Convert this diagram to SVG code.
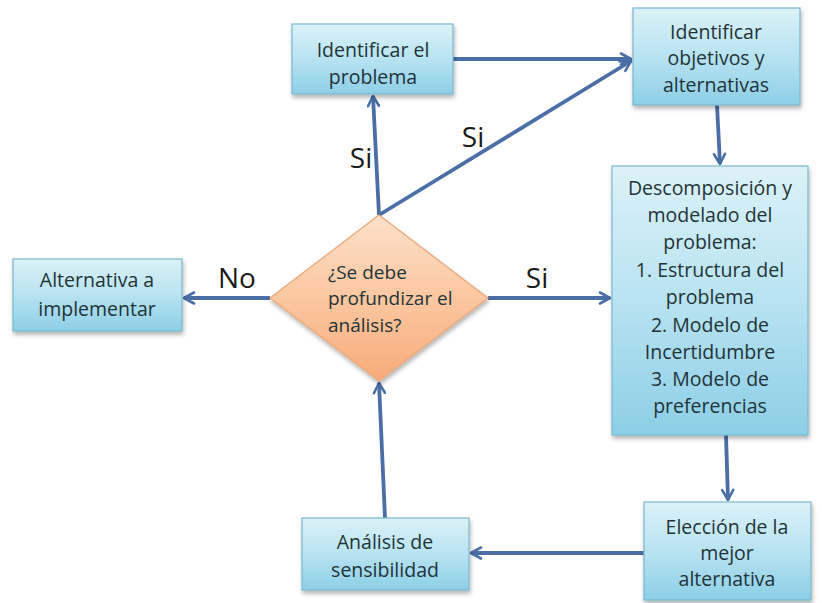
<svg xmlns="http://www.w3.org/2000/svg" width="822" height="603" viewBox="0 0 822 603">
  <defs>
    <linearGradient id="boxFill" x1="0" y1="0" x2="0" y2="1">
      <stop offset="0" stop-color="#dcf1f8"/>
      <stop offset="0.5" stop-color="#b8e3f1"/>
      <stop offset="1" stop-color="#8ccfe6"/>
    </linearGradient>
    <linearGradient id="diamondFill" x1="0" y1="0" x2="0" y2="1">
      <stop offset="0" stop-color="#fde0ca"/>
      <stop offset="0.5" stop-color="#fbc7a0"/>
      <stop offset="1" stop-color="#f6ab7a"/>
    </linearGradient>
    <filter id="shadow" x="-10%" y="-10%" width="125%" height="130%">
      <feDropShadow dx="1" dy="3" stdDeviation="2" flood-color="#000" flood-opacity="0.3"/>
    </filter>
    <marker id="arrow" viewBox="0 0 14 14" refX="12" refY="7" markerWidth="14" markerHeight="14" markerUnits="userSpaceOnUse" orient="auto">
      <path d="M2,1.5 L12,7 L2,12.5" fill="none" stroke="#4b6ea6" stroke-width="2.6" stroke-linecap="round" stroke-linejoin="round"/>
    </marker>
  </defs>
  <style>
    .box { fill: url(#boxFill); stroke: #7bb7cd; stroke-width: 1.2; filter: url(#shadow); }
    .diamond { fill: url(#diamondFill); stroke: #eaa677; stroke-width: 1.2; filter: url(#shadow); }
    .label { font-family: "Open Sans", "Liberation Sans", sans-serif; font-size: 19.5px; fill: #1f3338; text-anchor: middle; }
    .qtext { font-family: "Open Sans", "Liberation Sans", sans-serif; font-size: 19px; fill: #1f3338; }
    .edge-label { font-family: "Open Sans", "Liberation Sans", sans-serif; font-size: 28px; fill: #1a1a1a; text-anchor: middle; }
    .conn { stroke: #4b6ea6; stroke-width: 3.8; fill: none; marker-end: url(#arrow); }
  </style>
  <rect width="822" height="603" fill="#ffffff"/>

  <!-- connectors -->
  <g id="connectors">
    <line class="conn" x1="453" y1="59" x2="631" y2="59"/>
    <line class="conn" x1="379" y1="215" x2="631" y2="61"/>
    <line class="conn" x1="379" y1="215" x2="373" y2="96"/>
    <line class="conn" x1="717" y1="105" x2="720" y2="164"/>
    <line class="conn" x1="488" y1="298" x2="610" y2="298"/>
    <line class="conn" x1="270" y1="298" x2="184" y2="298"/>
    <line class="conn" x1="726" y1="435" x2="728" y2="500"/>
    <line class="conn" x1="644" y1="553" x2="471" y2="553"/>
    <line class="conn" x1="385" y1="518" x2="379" y2="383"/>
    <text class="edge-label" x="361" y="168">Si</text>
    <text class="edge-label" x="473" y="147">Si</text>
    <text class="edge-label" x="237" y="288">No</text>
    <text class="edge-label" x="537" y="288">Si</text>
  </g>

  <g id="identificar-problema">
    <rect class="box" x="292" y="24" width="161" height="70"/>
    <text class="label" x="373" y="57">Identificar el</text>
    <text class="label" x="373" y="84">problema</text>
  </g>

  <g id="identificar-objetivos">
    <rect class="box" x="633" y="8" width="167" height="97"/>
    <text class="label" x="716" y="39">Identificar</text>
    <text class="label" x="716" y="65">objetivos y</text>
    <text class="label" x="716" y="92">alternativas</text>
  </g>

  <g id="descomposicion">
    <rect class="box" x="612" y="166" width="196" height="269"/>
    <text class="label" x="710" y="195">Descomposición y</text>
    <text class="label" x="710" y="222">modelado del</text>
    <text class="label" x="710" y="249">problema:</text>
    <text class="label" x="710" y="277">1. Estructura del</text>
    <text class="label" x="710" y="304">problema</text>
    <text class="label" x="710" y="332">2. Modelo de</text>
    <text class="label" x="710" y="359">Incertidumbre</text>
    <text class="label" x="710" y="386">3. Modelo de</text>
    <text class="label" x="710" y="413">preferencias</text>
  </g>

  <g id="pregunta">
    <polygon class="diamond" points="379,215 488,298 379,381 270,298"/>
    <text class="qtext" x="328" y="279">¿Se debe</text>
    <text class="qtext" x="328" y="305">profundizar el</text>
    <text class="qtext" x="328" y="332">análisis?</text>
  </g>

  <g id="alternativa-implementar">
    <rect class="box" x="13" y="259" width="169" height="72"/>
    <text class="label" x="97" y="287">Alternativa a</text>
    <text class="label" x="97" y="316">implementar</text>
  </g>

  <g id="eleccion">
    <rect class="box" x="644" y="502" width="167" height="98"/>
    <text class="label" x="727" y="534">Elección de la</text>
    <text class="label" x="727" y="560">mejor</text>
    <text class="label" x="727" y="586">alternativa</text>
  </g>

  <g id="analisis-sensibilidad">
    <rect class="box" x="302" y="518" width="167" height="72"/>
    <text class="label" x="385" y="549">Análisis de</text>
    <text class="label" x="385" y="577">sensibilidad</text>
  </g>
</svg>
